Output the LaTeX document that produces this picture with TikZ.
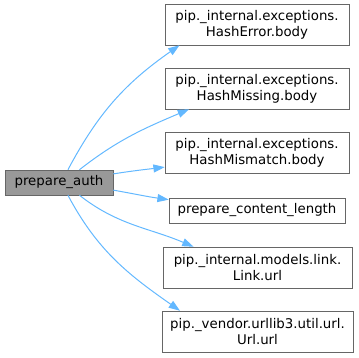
\documentclass[tikz,border=0pt]{standalone}
\usepackage{fontspec}
\setmainfont{DejaVu Sans}
\usetikzlibrary{arrows.meta}

\definecolor{edgeblue}{HTML}{63B8FF}
\definecolor{framegray}{HTML}{666666}
\definecolor{callergray}{HTML}{999999}

\tikzset{
  fn/.style={draw=framegray, fill=white, inner sep=0pt, align=center,
    font=\fontsize{10}{12}\selectfont},
  call/.style={->, draw=edgeblue, line width=0.75pt},
}

\begin{document}
\begin{tikzpicture}[x=0.75pt,y=0.75pt,
    >={Triangle[length=8.5pt,width=6pt,fill=edgeblue]}]

  \useasboundingbox (0,0) rectangle (359,357);

  % Aanroeper
  \node[fn, fill=callergray, minimum width=81pt, minimum height=18.75pt]
    (auth) at (59,174.5) {prepare\_auth};

  % Aangeroepen functies
  \node[fn, minimum width=138pt, minimum height=30.75pt]
    (hasherror) at (257,332.5) {pip.\_internal.exceptions.\\HashError.body};
  \node[fn, minimum width=138pt, minimum height=30.75pt]
    (hashmissing) at (257,268.5) {pip.\_internal.exceptions.\\HashMissing.body};
  \node[fn, minimum width=138pt, minimum height=30.75pt]
    (hashmismatch) at (257,204.5) {pip.\_internal.exceptions.\\HashMismatch.body};
  \node[fn, minimum width=132pt, minimum height=18.75pt]
    (contentlength) at (257,146.5) {prepare\_content\_length};
  \node[fn, minimum width=141.75pt, minimum height=30.75pt]
    (linkurl) at (257.5,89.5) {pip.\_internal.models.link.\\Link.url};
  \node[fn, minimum width=143.25pt, minimum height=30.75pt]
    (urlurl) at (257.5,25.5) {pip.\_vendor.urllib3.util.url.\\Url.url};

  % Aanroepen
  \draw[call] (auth.55)  to[out=62,in=215]  (hasherror.195);
  \draw[call] (auth.32)  to[out=38,in=203]  (hashmissing.197);
  \draw[call] (auth.9)   to[out=9,in=187]   (hashmismatch.189);
  \draw[call] (auth.-8)  to[out=-10,in=172] (contentlength.173);
  \draw[call] (auth.-32) to[out=-38,in=157] (linkurl.162);
  \draw[call] (auth.-55) to[out=-62,in=145] (urlurl.165);

\end{tikzpicture}
\end{document}
